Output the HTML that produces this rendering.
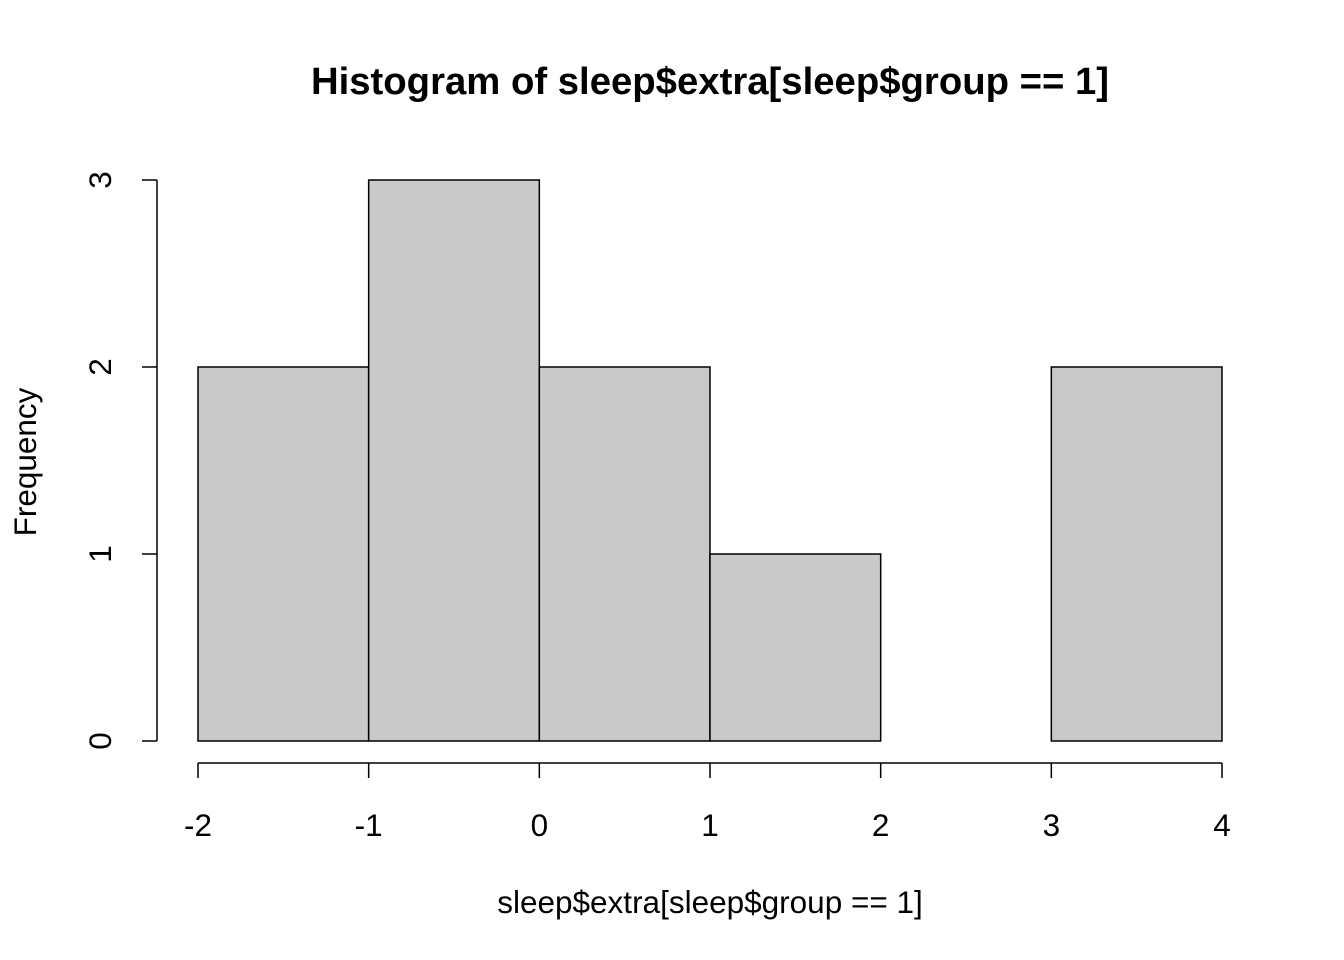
<!DOCTYPE html>
<html><head><meta charset="utf-8"><style>
html,body{margin:0;padding:0;background:#fff;}
svg{display:block;font-family:"Liberation Sans",Arial,sans-serif;}
</style></head><body>
<svg id="chart" width="1344" height="960" viewBox="0 0 1344 960">
<text x="710" y="94" text-anchor="middle" font-size="38.3" font-weight="bold">Histogram of sleep$extra[sleep$group == 1]</text>
<text x="710" y="913" text-anchor="middle" font-size="31.5">sleep$extra[sleep$group == 1]</text>
<text transform="translate(36,462) rotate(-90)" text-anchor="middle" font-size="31.5">Frequency</text>
<g id="bars"></g>
<g id="xaxis"></g>
<g id="yaxis"></g>
</svg>
<script>
const breaks = [-2, -1, 0, 1, 2, 3, 4];
const counts = [2, 3, 2, 1, 0, 2];
const xTicks = [-2, -1, 0, 1, 2, 3, 4];
const yTicks = [0, 1, 2, 3];
const NS = "http://www.w3.org/2000/svg";
function xs(v){ return 198 + (v + 2) * (1222 - 198) / 6; }
function ys(v){ return 741 - v * (741 - 180) / 3; }
function mk(tag, attrs, parent){ const e = document.createElementNS(NS, tag); for (const k in attrs) e.setAttribute(k, attrs[k]); parent.appendChild(e); return e; }
const bars = document.getElementById('bars');
counts.forEach((c, i) => {
  const x0 = xs(breaks[i]), x1 = xs(breaks[i+1]), y = ys(c);
  const r = mk('rect', {x: x0, y: y, width: x1 - x0, height: ys(0) - y, fill: '#c9c9c9', stroke: '#000', 'stroke-width': 1.5}, bars);
  
  
});
const xa = document.getElementById('xaxis');
mk('line', {x1: xs(xTicks[0]), x2: xs(xTicks[xTicks.length-1]), y1: 763, y2: 763, stroke: '#000', 'stroke-width': 1.5}, xa);
xTicks.forEach(t => {
  mk('line', {x1: xs(t), x2: xs(t), y1: 763, y2: 778, stroke: '#000', 'stroke-width': 1.5}, xa);
  const tx = mk('text', {x: xs(t), y: 836, 'text-anchor': 'middle', 'font-size': 31.5}, xa);
  tx.textContent = t;
  
  
});
const ya = document.getElementById('yaxis');
mk('line', {x1: 157, x2: 157, y1: ys(yTicks[0]), y2: ys(yTicks[yTicks.length-1]), stroke: '#000', 'stroke-width': 1.5}, ya);
yTicks.forEach(t => {
  mk('line', {x1: 142, x2: 157, y1: ys(t), y2: ys(t), stroke: '#000', 'stroke-width': 1.5}, ya);
  const tx = mk('text', {transform: 'translate(111,' + ys(t) + ') rotate(-90)', 'text-anchor': 'middle', 'font-size': 31.5}, ya);
  tx.textContent = t;
  
  
});
</script>
</body></html>
